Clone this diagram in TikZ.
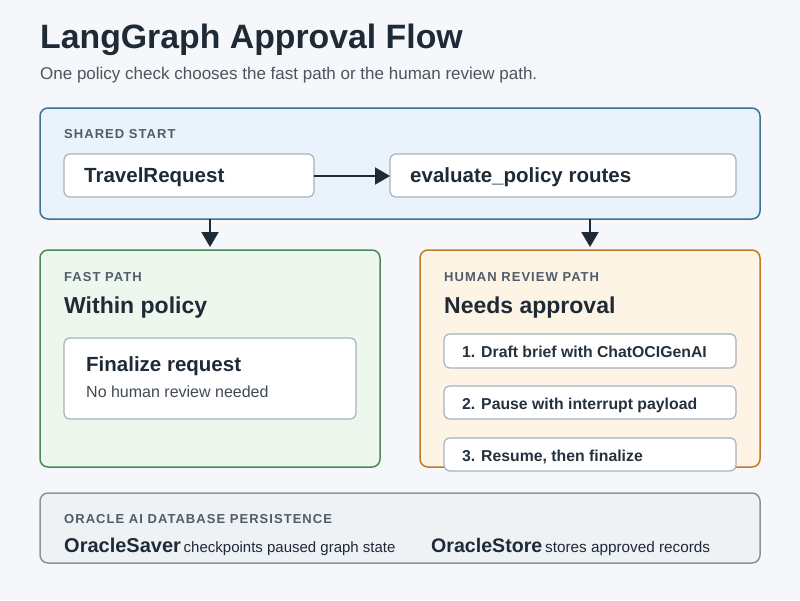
\documentclass[tikz,border=0pt]{standalone}
\usepackage{fontspec}
\setmainfont{Liberation Sans}
\usetikzlibrary{arrows.meta}
\definecolor{bg}{HTML}{F5F7FA}
\definecolor{ink}{HTML}{1E2A36}
\definecolor{muted}{HTML}{4F5D6A}
\definecolor{card}{HTML}{A7B1BB}
\definecolor{sstroke}{HTML}{3B7396}\definecolor{sfill}{HTML}{EAF3FB}
\definecolor{fstroke}{HTML}{4A8A59}\definecolor{ffill}{HTML}{EDF7EE}
\definecolor{hstroke}{HTML}{C27A2A}\definecolor{hfill}{HTML}{FDF4E6}
\definecolor{ostroke}{HTML}{8A949E}\definecolor{ofill}{HTML}{EEF2F5}
\begin{document}
\begin{tikzpicture}[x=1pt,y=-1pt,
 panel/.style={draw=#1,line width=1.5pt,rounded corners=8pt},
 card/.style={draw=card,line width=1.2pt,fill=white,rounded corners=6pt},
 lab/.style={anchor=base west,inner sep=0pt,text=muted,font=\bfseries\fontsize{13}{15}\selectfont\addfontfeatures{LetterSpace=8}},
 head/.style={anchor=base west,inner sep=0pt,text=ink,font=\bfseries\fontsize{23}{27}\selectfont},
 ctxt/.style={anchor=base west,inner sep=0pt,text=ink,font=\bfseries\fontsize{20.5}{24}\selectfont},
 itxt/.style={anchor=base west,inner sep=0pt,text=ink!85!muted,font=\bfseries\fontsize{15.8}{18}\selectfont},
 arr/.style={-{Triangle[length=15pt,width=17pt]},line width=2pt,draw=ink}]
\fill[bg] (0,0) rectangle (800,600);
\useasboundingbox (0,0) rectangle (800,600);
\node[anchor=base west,inner sep=0pt,text=ink,font=\bfseries\fontsize{33.8}{38}\selectfont] (title) at (40,48) {LangGraph Approval Flow};
\node[anchor=base west,inner sep=0pt,text=ink!80,font=\fontsize{17}{20}\selectfont] (sub) at (40,79) {One policy check chooses the fast path or the human review path.};
% shared
\draw[panel=sstroke,fill=sfill] (40,108) rectangle (760,219);
\node[lab] (sl) at (64,138) {SHARED START};
\draw[card] (64,154) rectangle (314,197);
\node[ctxt] (tr) at (84,182) {TravelRequest};
\draw[card] (390,154) rectangle (736,197);
\node[ctxt] (ev) at (410,182) {evaluate\_policy routes};
\coordinate (a1) at (314,176); \coordinate (a2) at (390,176);
\draw[arr] (a1) -- (a2);
\coordinate (d1) at (210,219); \coordinate (d2) at (210,247);
\coordinate (e1) at (590,219); \coordinate (e2) at (590,247);
\draw[arr] (d1) -- (d2);
\draw[arr] (e1) -- (e2);
% fast
\draw[panel=fstroke,fill=ffill] (40,250) rectangle (380,467);
\node[lab] (fl) at (64,281) {FAST PATH};
\node[head] (fh) at (64,313) {Within policy};
\draw[card] (64,338) rectangle (356,419);
\node[ctxt] (fr) at (86,371) {Finalize request};
\node[anchor=base west,inner sep=0pt,text=ink!85,font=\fontsize{16}{19}\selectfont] (fn) at (86,397) {No human review needed};
% human
\draw[panel=hstroke,fill=hfill] (420,250) rectangle (760,467);
\node[lab] (hl) at (444,281) {HUMAN REVIEW PATH};
\node[head] (hh) at (444,313) {Needs approval};
\draw[card] (444,334) rectangle (736,368);
\node[itxt] (i1) at (462,357) {1. Draft brief with ChatOCIGenAI};
\draw[card] (444,386) rectangle (736,419);
\node[itxt] (i2) at (462,409) {2. Pause with interrupt payload};
\draw[card] (444,438) rectangle (736,471);
\node[itxt] (i3) at (462,461) {3. Resume, then finalize};
% oracle
\draw[panel=ostroke,fill=ofill] (40,493) rectangle (760,563);
\node[lab] (ol) at (64,523) {ORACLE AI DATABASE PERSISTENCE};
\node[anchor=base west,inner sep=0pt,text=ink] (os) at (64,552) {{\bfseries\fontsize{20}{23}\selectfont OracleSaver} {\fontsize{15}{18}\selectfont checkpoints paused graph state}};
\node[anchor=base west,inner sep=0pt,text=ink] (ot) at (431,552) {{\bfseries\fontsize{19.6}{23}\selectfont OracleStore} {\fontsize{15.3}{18}\selectfont stores approved records}};
\end{tikzpicture}
\end{document}
